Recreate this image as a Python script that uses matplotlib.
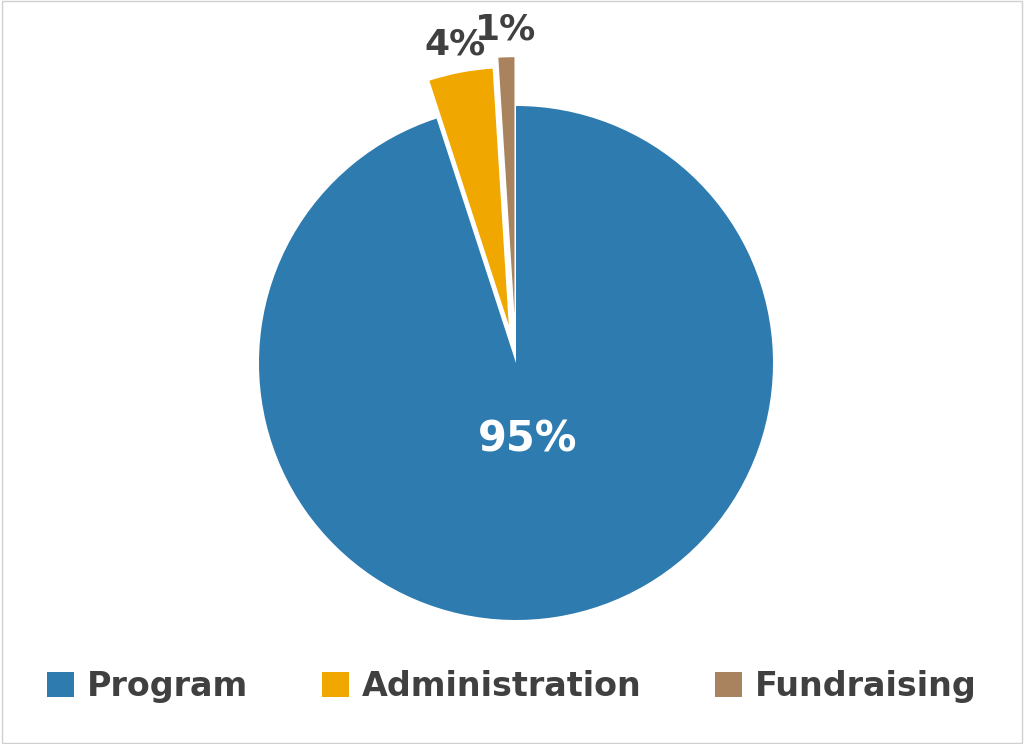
import numpy as np
import matplotlib.pyplot as plt

categories = ["Program", "Administration", "Fundraising"]
values = [95, 4, 1]
colors = ["#2E7BB0", "#F0A800", "#A9835E"]
explode = [0, 0.15, 0.19]

fig = plt.figure(figsize=(10.24, 7.44), dpi=100)
fig.patches.append(plt.Rectangle((0.002, 0.002), 0.996, 0.996, transform=fig.transFigure,
                                 fill=False, edgecolor="#D0D0D0", linewidth=1))
ax = fig.add_axes([259 / 1024, 124 / 744, 514 / 1024, 514 / 744])

wedges, texts, autotexts = ax.pie(values, colors=colors, explode=explode, startangle=90,
                                  counterclock=False, autopct="%d%%", pctdistance=0.3,
                                  wedgeprops=dict(linewidth=0))
ax.set_xlim(-1, 1)
ax.set_ylim(-1, 1)
ax.set_aspect("equal")
for w in wedges:
    w.set_clip_on(False)

for i, t in enumerate(autotexts):
    t.set_fontsize(30)
    t.set_fontweight("bold")
    t.set_clip_on(False)
    if i == 0:
        t.set_color("white")
    else:
        w = wedges[i]
        ang = np.deg2rad((w.theta1 + w.theta2) / 2)
        r = 1.11 + explode[i]
        t.set_position((r * np.cos(ang), r * np.sin(ang)))
        t.set_color("#404040")
        t.set_fontsize(26)

leg = fig.legend(wedges, categories, loc="lower center", bbox_to_anchor=(0.5, 0.015), ncol=3,
                 frameon=False, fontsize=24, handlelength=0.8, handleheight=0.8,
                 columnspacing=2.2, handletextpad=0.4)
for t in leg.get_texts():
    t.set_color("#404040")
    t.set_fontweight("bold")

fig.savefig("out.png", dpi=100)
